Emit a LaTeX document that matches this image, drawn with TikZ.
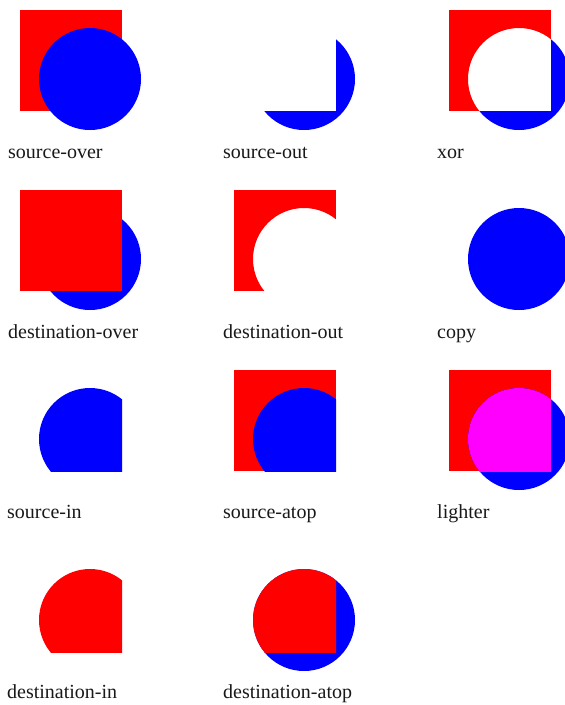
\documentclass[tikz,border=0pt]{standalone}
\usepackage{fontspec}
\setmainfont{Liberation Serif}
\definecolor{cred}{RGB}{255,0,0}
\definecolor{cblue}{RGB}{0,0,255}
\definecolor{cmag}{RGB}{255,0,255}
\definecolor{ctext}{RGB}{25,25,25}
\tikzset{
  sq/.style={insert path={(20,10) rectangle (122,111)}},
  ci/.style={insert path={(90,79) circle[radius=51]}},
  big/.style={insert path={(-5,-5) rectangle (210,175)}},
  lab/.style={anchor=base west, inner sep=0pt, text=ctext,
    font=\fontsize{20}{24}\selectfont}
}
\begin{document}
\begin{tikzpicture}[x=1pt,y=-1pt]
\path[use as bounding box, fill=white] (0,0) rectangle (565,705);
\clip (0,0) rectangle (565,705);
% ---------- row 1 ----------
\begin{scope}[shift={(0,0)}]
  \fill[cred,sq];
  \fill[cblue,ci];
  \node[lab] (l1) at (8,158) {source-over};
\end{scope}
\begin{scope}[shift={(214,0)}]
  \begin{scope}[even odd rule]
    \clip[big,sq];
    \fill[cblue,ci];
  \end{scope}
  \node[lab] (l2) at (9,158) {source-out};
\end{scope}
\begin{scope}[shift={(429,0)}]
  \begin{scope}[even odd rule]
    \clip[big,ci];
    \fill[cred,sq];
  \end{scope}
  \begin{scope}[even odd rule]
    \clip[big,sq];
    \fill[cblue,ci];
  \end{scope}
  \node[lab] (l3) at (8,158) {xor};
\end{scope}
% ---------- row 2 ----------
\begin{scope}[shift={(0,180)}]
  \fill[cblue,ci];
  \fill[cred,sq];
  \node[lab] (l4) at (8,158) {destination-over};
\end{scope}
\begin{scope}[shift={(214,180)}]
  \begin{scope}[even odd rule]
    \clip[big,ci];
    \fill[cred,sq];
  \end{scope}
  \node[lab] (l5) at (9,158) {destination-out};
\end{scope}
\begin{scope}[shift={(429,180)}]
  \fill[cblue,ci];
  \node[lab] (l6) at (8,158) {copy};
\end{scope}
% ---------- row 3 ----------
\begin{scope}[shift={(0,360)}]
  \begin{scope}
    \clip[sq];
    \fill[cblue,ci];
  \end{scope}
  \node[lab] (l7) at (7,158) {source-in};
\end{scope}
\begin{scope}[shift={(214,360)}]
  \fill[cred,sq];
  \begin{scope}
    \clip[sq];
    \fill[cblue,ci];
  \end{scope}
  \node[lab] (l8) at (9,158) {source-atop};
\end{scope}
\begin{scope}[shift={(429,360)}]
  \fill[cred,sq];
  \fill[cblue,ci];
  \begin{scope}
    \clip[sq];
    \fill[cmag,ci];
  \end{scope}
  \node[lab] (l9) at (8,158) {lighter};
\end{scope}
% ---------- row 4 ----------
\begin{scope}[shift={(0,541)}]
  \begin{scope}
    \clip[sq];
    \fill[cred,ci];
  \end{scope}
  \node[lab] (l10) at (7,157) {destination-in};
\end{scope}
\begin{scope}[shift={(214,541)}]
  \fill[cblue,ci];
  \begin{scope}
    \clip[sq];
    \fill[cred,ci];
  \end{scope}
  \node[lab] (l11) at (9,157) {destination-atop};
\end{scope}
\end{tikzpicture}
\end{document}
